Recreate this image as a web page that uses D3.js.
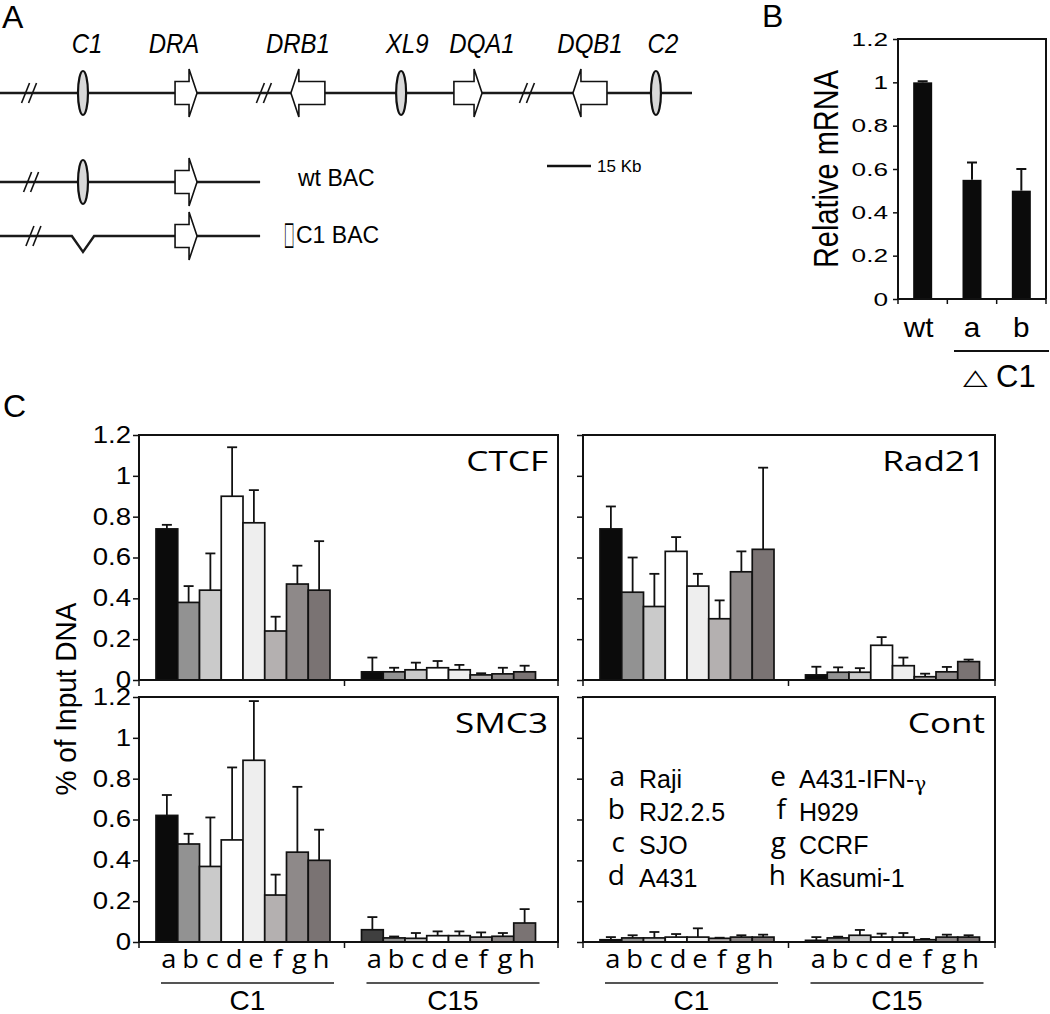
<!DOCTYPE html>
<html><head><meta charset="utf-8">
<script src="https://cdn.jsdelivr.net/npm/d3@7"></script>
<style>body{margin:0;background:#fff}svg{display:block}</style>
</head><body>
<svg id="c" width="1050" height="1014"></svg>
<script>
// ---------------- DATA ----------------
// Panel A: locus map (kb)
const geneNames  = ["C1","DRA","DRB1","XL9","DQA1","DQB1","C2"];
const geneKinds  = ["site","gene","gene","site","gene","gene","site"];
const geneStartKb= [28.3, 59.7, 99.2, 136.8, 154.8, 195.4, 223.7];
const geneEndKb  = [28.3, 67.2, 110.8, 136.8, 164.4, 207.0, 223.7];
const geneStrand = [0, 1, -1, 0, 1, -1, 0];
const breakKb    = [9.9, 90.0, 179.7];
const locusEndKb = 236;
const bacEndKb   = 88.7;
const bacBreakKb = 10.6;
const deletionHalfKb = 3.8;
const bacLabels  = ["wt BAC", "C1 BAC"];
const scaleBarKb = 15;
const scaleBarLabel = "15 Kb";

// Panel B
const mrnaCats   = ["wt","a","b"];
const mrnaValues = [1.00, 0.55, 0.50];
const mrnaErrors = [0.005, 0.08, 0.10];
const mrnaTicks  = [0, 0.2, 0.4, 0.6, 0.8, 1, 1.2];

// Panel C
const cellLines  = ["a","b","c","d","e","f","g","h"];
const cellNames  = ["Raji","RJ2.2.5","SJO","A431","A431-IFN-","H929","CCRF","Kasumi-1"];
const sites      = ["C1","C15"];
const chipTicks  = [0, 0.2, 0.4, 0.6, 0.8, 1, 1.2];
const antibodies = ["CTCF","Rad21","SMC3","Cont"];

const ctcfC1   = [0.74, 0.38, 0.44, 0.90, 0.77, 0.24, 0.47, 0.44];
const ctcfC1e  = [0.02, 0.08, 0.18, 0.24, 0.16, 0.07, 0.09, 0.24];
const ctcfC15  = [0.04, 0.04, 0.05, 0.06, 0.05, 0.025, 0.03, 0.04];
const ctcfC15e = [0.07, 0.02, 0.035, 0.033, 0.024, 0.008, 0.03, 0.03];

const rad21C1   = [0.74, 0.43, 0.36, 0.63, 0.46, 0.30, 0.53, 0.64];
const rad21C1e  = [0.11, 0.17, 0.16, 0.07, 0.06, 0.09, 0.10, 0.40];
const rad21C15  = [0.025, 0.038, 0.038, 0.17, 0.07, 0.016, 0.04, 0.09];
const rad21C15e = [0.04, 0.024, 0.02, 0.04, 0.04, 0.015, 0.024, 0.01];

const smc3C1   = [0.62, 0.48, 0.37, 0.50, 0.89, 0.23, 0.44, 0.40];
const smc3C1e  = [0.10, 0.05, 0.24, 0.355, 0.29, 0.10, 0.32, 0.15];
const smc3C15  = [0.06, 0.02, 0.018, 0.031, 0.031, 0.024, 0.028, 0.093];
const smc3C15e = [0.062, 0.007, 0.026, 0.021, 0.021, 0.023, 0.016, 0.068];

const contC1   = [0.011, 0.02, 0.02, 0.024, 0.024, 0.018, 0.024, 0.024];
const contC1e  = [0.013, 0.013, 0.029, 0.015, 0.043, 0.003, 0.009, 0.012];
const contC15  = [0.008, 0.02, 0.033, 0.024, 0.024, 0.011, 0.024, 0.024];
const contC15e = [0.016, 0.006, 0.026, 0.017, 0.02, 0.004, 0.012, 0.009];

// ---------------- STYLE / LAYOUT ----------------
const cellColors = ["#0b0b0b","#929292","#cacaca","#ffffff","#eeeeee","#b4b0b0","#8e8989","#7a7373"];
const FS = "'Liberation Sans', Arial, sans-serif";
const FO = "'Open Sans', sans-serif";
const INK = "#111";

const svg = d3.select("#c");
svg.append("rect").attr("width",1050).attr("height",1014).attr("fill","#fff");

function txt(g, x, y, s, o = {}) {
  const t = g.append("text")
    .attr("transform", `translate(${x},${y})` + (o.rot ? ` rotate(${o.rot})` : "") + ` scale(${o.sx || 1},${o.sy || 1})`)
    .attr("text-anchor", o.anchor || "start")
    .attr("font-family", o.ff || FS)
    .attr("font-size", o.fs || 16)
    .attr("fill", o.fill || "#000");
  if (o.italic) t.attr("font-style", "italic");
  t.text(s);
  return t;
}

// panel letters
txt(svg, 2, 28, "A", {fs: 32});
txt(svg, 762, 27, "B", {fs: 32});
txt(svg, 3, 417, "C", {fs: 32});

// ---------------- PANEL A ----------------
const gA = svg.append("g");
const xA = d3.scaleLinear().domain([0, locusEndKb]).range([0, 692]);
const yMain = 93, yWt = 182, yDel = 236;

function drawBreak(g, x, y) {
  [-3.5, 3.5].forEach(d => g.append("line")
    .attr("x1", x + d - 4).attr("y1", y + 10).attr("x2", x + d + 4).attr("y2", y - 10)
    .attr("stroke", INK).attr("stroke-width", 1.6));
}
function drawSite(g, x, y) {
  g.append("ellipse").attr("cx", x).attr("cy", y).attr("rx", 5).attr("ry", 22)
    .attr("fill", "#d9d9d9").attr("stroke", INK).attr("stroke-width", 2.2);
}
function drawArrow(g, x0, x1, strand, y) {
  const head = 8, hh = 11.5, th = 24;
  let p;
  if (strand > 0) {
    const xh = x1 - head;
    p = `M${x0},${y-hh}L${xh},${y-hh}L${xh},${y-th}L${x1},${y}L${xh},${y+th}L${xh},${y+hh}L${x0},${y+hh}Z`;
  } else {
    const xh = x0 + head;
    p = `M${x1},${y-hh}L${xh},${y-hh}L${xh},${y-th}L${x0},${y}L${xh},${y+th}L${xh},${y+hh}L${x1},${y+hh}Z`;
  }
  g.append("path").attr("d", p).attr("fill", "#fff").attr("stroke", INK).attr("stroke-width", 1.6);
}

// main locus
gA.append("line").attr("x1", xA(0)).attr("x2", xA(locusEndKb)).attr("y1", yMain).attr("y2", yMain)
  .attr("stroke", "#1a1a1a").attr("stroke-width", 2.4);
breakKb.forEach(k => drawBreak(gA, xA(k), yMain));
const labelDx = [4, -12, -10, 6, 14, 0, 7];
geneNames.forEach((n, i) => {
  const x0 = xA(geneStartKb[i]), x1 = xA(geneEndKb[i]);
  if (geneKinds[i] === "site") drawSite(gA, x0, yMain);
  else drawArrow(gA, x0, x1, geneStrand[i], yMain);
  txt(gA, (x0 + x1) / 2 + labelDx[i], 53, n, {fs: 24, italic: true, anchor: "middle", sy: 1.12});
});

// wt BAC
gA.append("line").attr("x1", 0).attr("x2", xA(bacEndKb)).attr("y1", yWt).attr("y2", yWt)
  .attr("stroke", "#1a1a1a").attr("stroke-width", 2.4);
drawBreak(gA, xA(bacBreakKb), yWt);
drawSite(gA, xA(geneStartKb[0]), yWt);
drawArrow(gA, xA(geneStartKb[1]), xA(geneEndKb[1]), 1, yWt);
txt(gA, 298, 186, bacLabels[0], {fs: 23});

// deletion BAC
const dl = xA(geneStartKb[0] - deletionHalfKb), dr = xA(geneStartKb[0] + deletionHalfKb);
gA.append("path")
  .attr("d", `M0,${yDel}L${dl},${yDel}L${(dl+dr)/2},${yDel+16}L${dr},${yDel}L${xA(bacEndKb)},${yDel}`)
  .attr("fill", "none").attr("stroke", "#1a1a1a").attr("stroke-width", 2.4);
drawBreak(gA, xA(bacBreakKb + 0.8), yDel);
drawArrow(gA, xA(geneStartKb[1]), xA(geneEndKb[1]), 1, yDel);
txt(gA, 284, 244, "\u25A1", {fs: 22, ff: "'DejaVu Sans'", sx: 0.5, sy: 1.45});
txt(gA, 296, 243, bacLabels[1], {fs: 23});

// scale bar
gA.append("line").attr("x1", 547).attr("x2", 547 + (xA(scaleBarKb) - xA(0))).attr("y1", 166).attr("y2", 166)
  .attr("stroke", INK).attr("stroke-width", 2.4);
txt(gA, 597, 172, scaleBarLabel, {fs: 17});

// ---------------- PANEL B ----------------
const gB = svg.append("g");
const bL = 898, bR = 1046, bT = 39, bB = 299;
const xB = d3.scaleBand().domain(mrnaCats).range([bL, bR]).paddingInner(0.615).paddingOuter(0.3075);
const yB = d3.scaleLinear().domain([0, 1.2]).range([bB, bT]);

gB.selectAll("rect.bar").data(mrnaCats).join("rect").attr("class", "bar")
  .attr("x", d => xB(d)).attr("width", xB.bandwidth())
  .attr("y", (d, i) => yB(mrnaValues[i])).attr("height", (d, i) => yB(0) - yB(mrnaValues[i]))
  .attr("fill", "#0b0b0b");
mrnaCats.forEach((c, i) => {
  const cx = xB(c) + xB.bandwidth() / 2, yt = yB(mrnaValues[i] + mrnaErrors[i]);
  gB.append("line").attr("x1", cx).attr("x2", cx).attr("y1", yB(mrnaValues[i])).attr("y2", yt).attr("stroke", INK).attr("stroke-width", 2);
  gB.append("line").attr("x1", cx - 5).attr("x2", cx + 5).attr("y1", yt).attr("y2", yt).attr("stroke", INK).attr("stroke-width", 2);
});
const axB = gB.append("g").attr("transform", `translate(${bL},0)`)
  .call(d3.axisLeft(yB).tickValues(mrnaTicks).tickSize(5).tickPadding(4).tickFormat(d3.format("~g")));
axB.select(".domain").remove();
axB.selectAll("line").attr("stroke", INK).attr("stroke-width", 1.5);
axB.selectAll("text").attr("font-family", FS).attr("font-size", 19).attr("fill", "#000")
  .attr("transform", "scale(1.38,1)").attr("x", -10 / 1.38);
gB.append("path").attr("d", `M${bL},${bB}L${bL},${bT}L${bR},${bT}L${bR},${bB}`).attr("fill", "none").attr("stroke", INK).attr("stroke-width", 2);
gB.append("line").attr("x1", bL).attr("x2", bR).attr("y1", bB).attr("y2", bB).attr("stroke", INK).attr("stroke-width", 2);
[bL, ...mrnaCats.slice(1).map(c => xB(c) - xB.step() * xB.paddingInner() / 2), bR].forEach(x =>
  gB.append("line").attr("x1", x).attr("x2", x).attr("y1", bB).attr("y2", bB + 5).attr("stroke", INK).attr("stroke-width", 1.5));
txt(gB, 838, (bT + bB) / 2, "Relative mRNA", {fs: 29, rot: -90, anchor: "middle", sy: 1.18});
mrnaCats.forEach(c => txt(gB, xB(c) + xB.bandwidth() / 2 + (c === "wt" ? -4 : 0), 337, c, {fs: 27, anchor: "middle", sx: 1.1}));
gB.append("line").attr("x1", 954).attr("x2", 1049).attr("y1", 351).attr("y2", 351).attr("stroke", INK).attr("stroke-width", 2);
txt(gB, 975.5, 384, "\u25B3", {fs: 23, ff: "'DejaVu Sans'", anchor: "middle", sx: 1.4, sy: 0.95});
txt(gB, 996, 387, "C1", {fs: 31});

// ---------------- PANEL C ----------------
const chipC1  = [ctcfC1, rad21C1, smc3C1, contC1];
const chipC1e = [ctcfC1e, rad21C1e, smc3C1e, contC1e];
const chipC15 = [ctcfC15, rad21C15, smc3C15, contC15];
const chipC15e= [ctcfC15e, rad21C15e, smc3C15e, contC15e];

const panelBoxes = [
  {left: 139, top: 435, w: 419, h: 245, labels: true},
  {left: 583, top: 435, w: 412, h: 245, labels: false},
  {left: 139, top: 697, w: 419, h: 245, labels: true},
  {left: 583, top: 697, w: 412, h: 245, labels: false}
];

antibodies.forEach((ab, pi) => {
  const P = panelBoxes[pi];
  const g = svg.append("g").attr("transform", `translate(${P.left},${P.top})`);
  const x0 = d3.scaleBand().domain(sites).range([0, 411]).padding(0);
  const x1 = d3.scaleBand().domain(cellLines).range([17, 191]).padding(0);
  const y = d3.scaleLinear().domain([0, 1.2]).range([P.h, 0]);
  const rows = [];
  sites.forEach((s, si) => {
    const vals = si === 0 ? chipC1[pi] : chipC15[pi];
    const errs = si === 0 ? chipC1e[pi] : chipC15e[pi];
    cellLines.forEach((c, ci) => rows.push({site: s, cell: c, ci, v: vals[ci], e: errs[ci]}));
  });
  // bars
  g.selectAll("rect.bar").data(rows).join("rect").attr("class", "bar")
    .attr("x", d => x0(d.site) + x1(d.cell)).attr("width", x1.bandwidth())
    .attr("y", d => y(d.v)).attr("height", d => y(0) - y(d.v))
    .attr("fill", d => (ab === "SMC3" && d.site === "C15" && d.cell === "a") ? "#3f3f3f" : cellColors[d.ci])
    .attr("stroke", INK).attr("stroke-width", 1.7);
  // error bars
  rows.forEach(d => {
    const cx = x0(d.site) + x1(d.cell) + x1.bandwidth() / 2, yt = y(d.v + d.e);
    g.append("line").attr("x1", cx).attr("x2", cx).attr("y1", y(d.v)).attr("y2", yt).attr("stroke", INK).attr("stroke-width", 1.8);
    g.append("line").attr("x1", cx - 5).attr("x2", cx + 5).attr("y1", yt).attr("y2", yt).attr("stroke", INK).attr("stroke-width", 1.8);
  });
  // frame
  g.append("rect").attr("x", 0).attr("y", 0).attr("width", P.w).attr("height", P.h)
    .attr("fill", "none").attr("stroke", INK).attr("stroke-width", 2);
  // y axis
  const ay = g.append("g").call(d3.axisLeft(y).tickValues(chipTicks).tickSize(6).tickPadding(5).tickFormat(d3.format("~g")));
  ay.select(".domain").remove();
  ay.selectAll("line").attr("stroke", INK).attr("stroke-width", 1.5);
  if (P.labels) {
    ay.selectAll("text").attr("font-family", FS).attr("font-size", 23).attr("fill", "#000")
      .attr("transform", "scale(1.2,1)").attr("x", -8 / 1.2);
  } else {
    ay.selectAll("text").remove();
  }
  // bottom ticks
  [0, x0("C15"), P.w].forEach(x => g.append("line").attr("x1", x).attr("x2", x).attr("y1", P.h).attr("y2", P.h + 6)
    .attr("stroke", INK).attr("stroke-width", 1.5));
  // title
  txt(g, P.w - 10, 36, ab, {fs: 27, ff: FO, anchor: "end", sx: 1.3});
  // category labels on bottom row
  if (pi >= 2) {
    sites.forEach(s => {
      cellLines.forEach(c => txt(g, x0(s) + x1(c) + x1.bandwidth() / 2 + 2, P.h + 26, c, {fs: 26, ff: FO, anchor: "middle", sx: 1.05}));
      const u0 = x0(s) + x1.range()[0] + 5, u1 = x0(s) + x1.range()[1] + 4;
      g.append("line").attr("x1", u0).attr("x2", u1).attr("y1", P.h + 41).attr("y2", P.h + 41)
        .attr("stroke", "#555").attr("stroke-width", 2.2);
      txt(g, (u0 + u1) / 2, P.h + 68, s, {fs: 28, anchor: "middle"});
    });
  }
  // legend in Cont panel
  if (ab === "Cont") {
    cellLines.forEach((c, i) => {
      const col = Math.floor(i / 4), row = i % 4;
      const lx = col === 0 ? 42 : 203, nx = col === 0 ? 56 : 216;
      const by = 91 + row * 33;
      txt(g, lx, by - 2, c, {fs: 28, ff: FO, anchor: "end"});
      const t = txt(g, nx, by, cellNames[i], {fs: 25});
      if (i === 4) t.append("tspan").attr("font-family", "'DejaVu Serif'").attr("font-size", 20).attr("dy", 3).text("\u03B3");
    });
  }
});

// y-axis title for panel C
txt(svg, 76, 699, "% of Input DNA", {fs: 28, rot: -90, anchor: "middle", sy: 1.08});
</script>
</body></html>
